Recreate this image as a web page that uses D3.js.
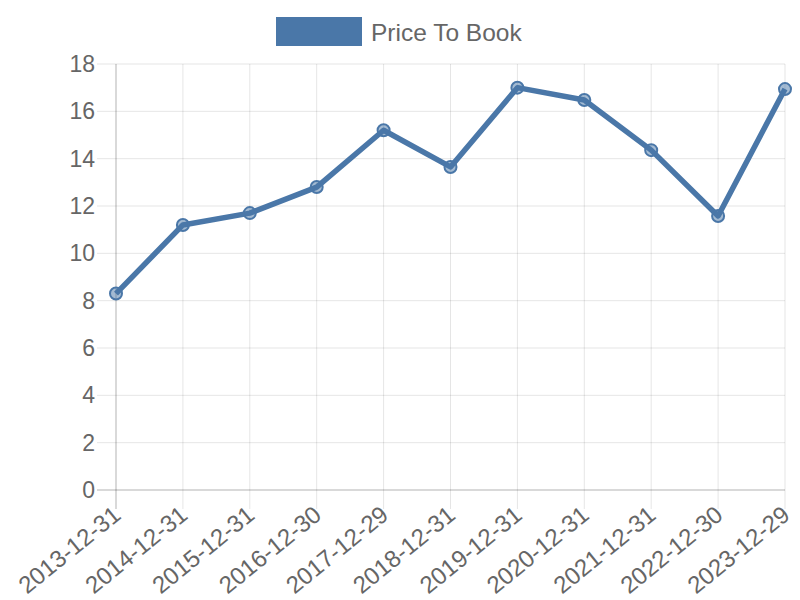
<!DOCTYPE html>
<html><head><meta charset="utf-8">
<script src="https://cdn.jsdelivr.net/npm/d3@7"></script>
<style>body{margin:0;background:#fff}svg{display:block}</style>
</head><body>
<svg id="c" width="800" height="600"></svg>
<script>
const categories = ["2013-12-31","2014-12-31","2015-12-31","2016-12-30","2017-12-29","2018-12-31","2019-12-31","2020-12-31","2021-12-31","2022-12-30","2023-12-29"];
const values = [8.3, 11.2, 11.7, 12.8, 15.2, 13.65, 17.0, 16.48, 14.36, 11.58, 16.94];
const yTicks = [0,2,4,6,8,10,12,14,16,18];
const seriesName = "Price To Book";

(function(){
const svg = d3.select("#c");
const font = "'Liberation Sans', Arial, sans-serif";
const pL = 116, pR = 785, pT = 64, pB = 490;
const color = "#4a77a8";

const x = d3.scalePoint().domain(categories).range([pL, pR]);
const y = d3.scaleLinear().domain([0, 18]).range([pB, pT]);

const g = svg.append("g");
g.selectAll(".hg").data(yTicks).enter().append("line")
  .attr("x1", pL - 19).attr("x2", pR).attr("y1", d => y(d)).attr("y2", d => y(d))
  .attr("stroke", d => d === 0 ? "rgba(0,0,0,0.3)" : "rgba(0,0,0,0.1)").attr("stroke-width", 1);
g.selectAll(".vg").data(categories).enter().append("line")
  .attr("x1", d => x(d)).attr("x2", d => x(d)).attr("y1", pT).attr("y2", pB + 19)
  .attr("stroke", (d,i) => i === 0 ? "rgba(0,0,0,0.3)" : "rgba(0,0,0,0.1)").attr("stroke-width", 1);

g.selectAll(".yl").data(yTicks).enter().append("text")
  .attr("x", pL - 21).attr("y", d => y(d)).attr("dy", "0.35em")
  .attr("text-anchor", "end").attr("font-family", font).attr("font-size", 23).attr("fill", "#666")
  .text(d => d);

g.selectAll(".xl").data(categories).enter().append("text")
  .attr("transform", d => `translate(${x(d)+1},${pB + 21}) rotate(-39)`)
  .attr("text-anchor", "end").attr("dy", "0.35em")
  .attr("font-family", font).attr("font-size", 24).attr("fill", "#666")
  .text(d => d);

const line = d3.line().x((d,i) => x(categories[i])).y(d => y(d));
svg.append("path").datum(values).attr("d", line)
  .attr("fill", "none").attr("stroke", color).attr("stroke-width", 5.5).attr("stroke-linejoin", "round");

svg.selectAll(".pt").data(values).enter().append("circle")
  .attr("cx", (d,i) => x(categories[i])).attr("cy", d => y(d)).attr("r", 6)
  .attr("fill", "rgba(74,119,168,0.5)").attr("stroke", color).attr("stroke-width", 2);

svg.append("rect").attr("x", 276).attr("y", 17).attr("width", 86).attr("height", 29).attr("fill", color);
svg.append("text").attr("x", 371).attr("y", 32).attr("dy", "0.35em")
  .attr("font-family", font).attr("font-size", 24.5).attr("fill", "#666").text(seriesName);
})();
</script>
</body></html>
